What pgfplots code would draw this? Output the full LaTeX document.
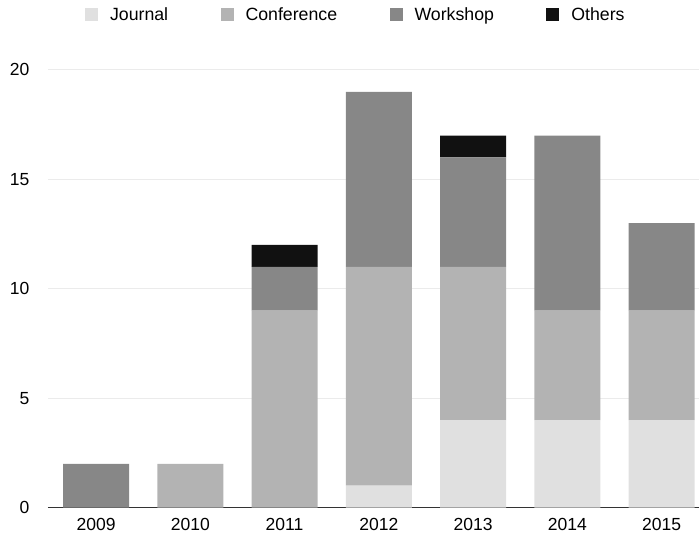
\documentclass[border=0pt]{standalone}
\usepackage{fontspec}
\setmainfont{Liberation Sans}
\usepackage{pgfplots}
\pgfplotsset{compat=1.18}
\definecolor{journal}{HTML}{E0E0E0}
\definecolor{conference}{HTML}{B3B3B3}
\definecolor{workshop}{HTML}{878787}
\definecolor{others}{HTML}{111111}
\definecolor{gridgray}{HTML}{EBEBEB}
\definecolor{axisgray}{HTML}{333333}

\begin{document}
\begin{tikzpicture}
\begin{axis}[
    scale only axis,
    width=652bp, height=438bp,
    ybar stacked,
    bar width=66bp,
    xmin=-0.51, xmax=6.4,
    ymin=0, ymax=20,
    xtick={0,...,6},
    xticklabels={2009,2010,2011,2012,2013,2014,2015},
    ytick={0,5,10,15,20},
    major tick length=0pt,
    axis lines*=left,
    axis line style={-},
    x axis line style={draw=axisgray, line width=1.3bp},
    y axis line style={draw=none},
    ymajorgrids,
    major grid style={draw=gridgray, line width=1bp},
    tick label style={font=\fontsize{17.6}{20}\selectfont},
    /pgf/number format/assume math mode=true,
    yticklabel style={xshift=-15bp},
    xticklabel style={yshift=-7bp},
    legend style={at={(0.0567,1.1256)}, anchor=west, draw=none, fill=none,
        inner sep=0pt,
        legend columns=-1, font=\fontsize{17.8}{20}\selectfont,
        /tikz/every odd column/.append style={column sep=10bp},
        /tikz/every even column/.append style={column sep=50.5bp}},
    legend image code/.code={\fill[#1] (0bp,-6.5bp) rectangle (13bp,6.5bp);},
]
\addplot[fill=journal, draw=none] coordinates {(0,0) (1,0) (2,0) (3,1) (4,4) (5,4) (6,4)};
\addplot[fill=conference, draw=none] coordinates {(0,0) (1,2) (2,9) (3,10) (4,7) (5,5) (6,5)};
\addplot[fill=workshop, draw=none] coordinates {(0,2) (1,0) (2,2) (3,8) (4,5) (5,8) (6,4)};
\addplot[fill=others, draw=none] coordinates {(0,0) (1,0) (2,1) (3,0) (4,1) (5,0) (6,0)};
\legend{Journal, Conference, Workshop, Others}
\end{axis}
\path ([xshift=-48bp,yshift=-29bp]current axis.south west) rectangle ([yshift=70bp]current axis.north east);
\end{tikzpicture}
\end{document}
